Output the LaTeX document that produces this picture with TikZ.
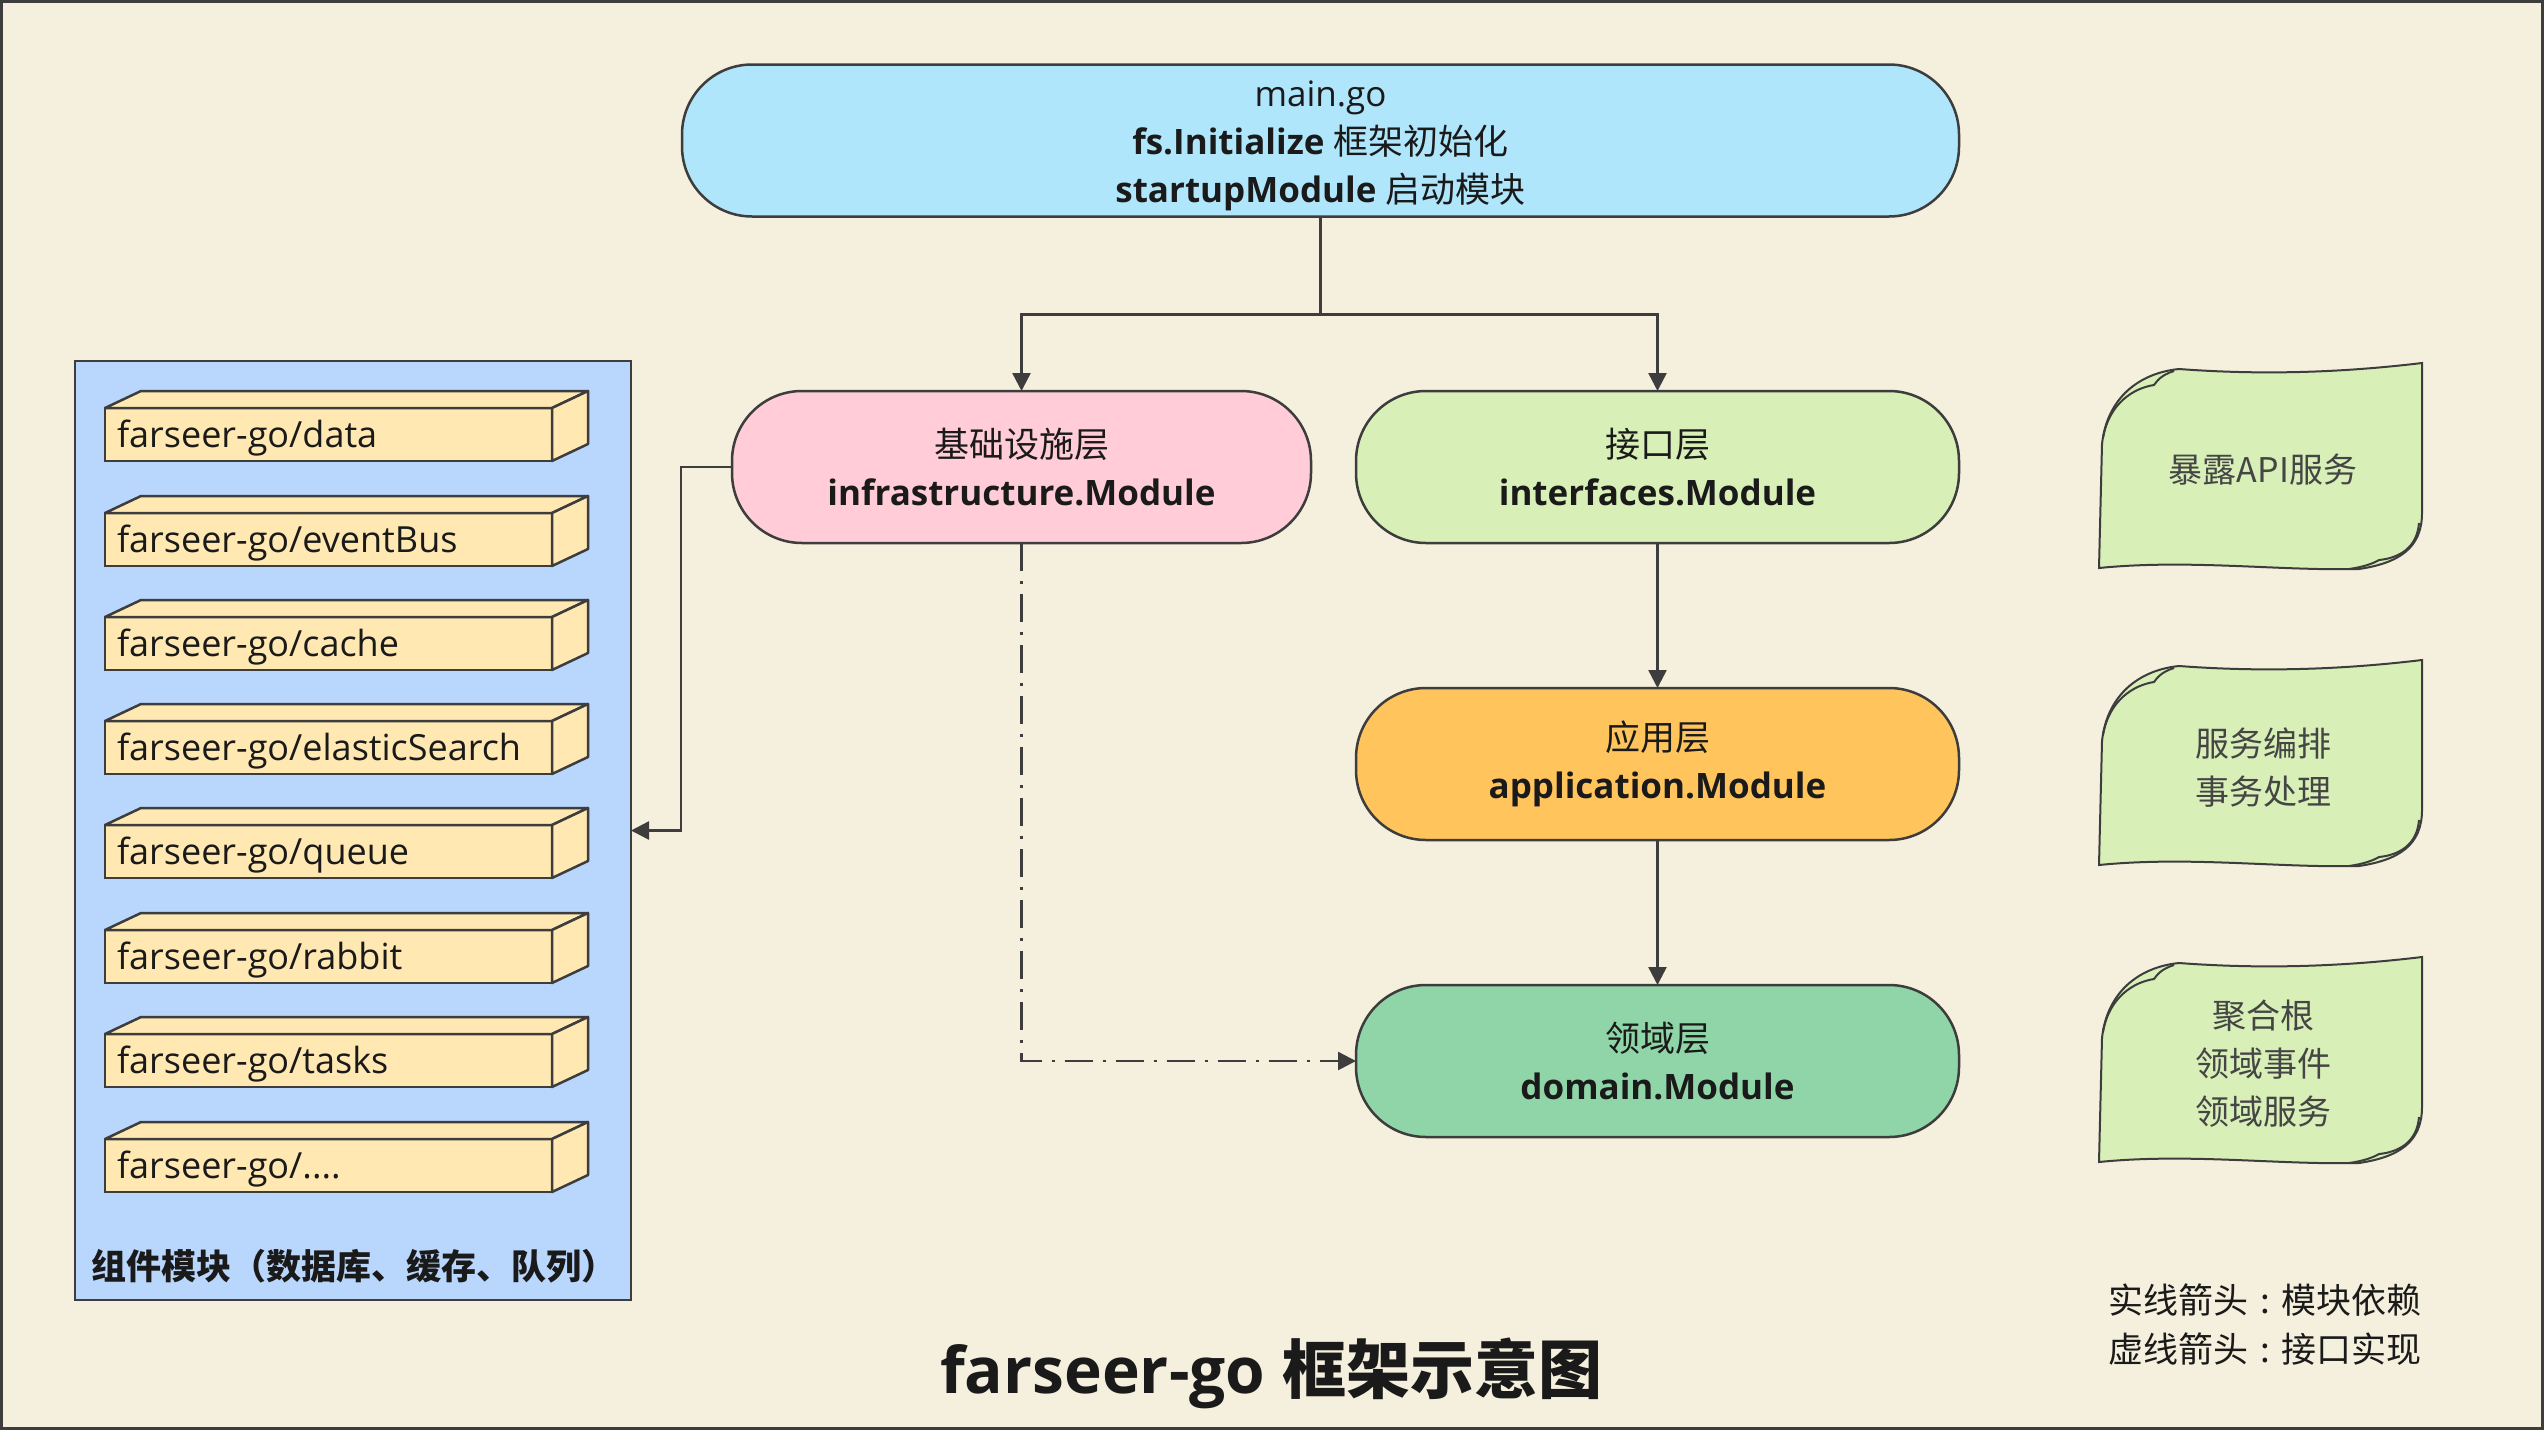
\documentclass[tikz,border=0pt]{standalone}
\usepackage{fontspec}
\setmainfont{Open Sans}
\newfontfamily\cjk{Noto Sans CJK SC}
\usetikzlibrary{arrows.meta}
\definecolor{bgc}{HTML}{F5F0DD}
\definecolor{linec}{HTML}{3D3D3D}
\definecolor{mainc}{HTML}{B0E6FB}
\definecolor{infrac}{HTML}{FFCCD8}
\definecolor{intfc}{HTML}{D8F0B8}
\definecolor{appc}{HTML}{FFC45C}
\definecolor{domc}{HTML}{90D5A8}
\definecolor{compc}{HTML}{B9D6FC}
\definecolor{itemc}{HTML}{FFE8B2}
\definecolor{txtc}{HTML}{1A1A1A}
\definecolor{padtxt}{HTML}{454545}
\newcommand\modbox[3]{%
  \node[itembox, anchor=north west] (#1) at (105,#2) {farseer-go/#3};
  \filldraw[itemedge] (#1.north west) -- ++(36,-17) -- ++(447,0) -- (#1.north east) -- cycle;
  \filldraw[itemedge] (#1.north east) -- ++(36,-17) -- ++(0,53) -- (#1.south east) -- cycle;
}
\newcommand\midcolon{\kern12pt:\kern12pt}
\tikzset{
  notepad/.pic={
    \filldraw[fill=intfc, draw=linec, line width=2pt]
      (0,205) -- (3,81) .. controls (8,35) and (40,10) .. (80,6)
      .. controls (160,12) and (240,10) .. (323,0) -- (323,150)
      .. controls (323,185) and (300,200) .. (260,206)
      .. controls (180,208) and (90,196) .. (0,205) -- cycle;
    \draw[linec, line width=2pt] (4,75) .. controls (10,40) and (35,25) .. (55,22)
      .. controls (58,18) and (62,12) .. (75,8);
    \draw[linec, line width=2pt] (320,160) .. controls (318,185) and (300,195) .. (280,197)
      .. controls (275,200) and (265,204) .. (250,206);
  }
}
\begin{document}
\begin{tikzpicture}[x=1pt,y=-1pt,
  every node/.style={inner sep=0pt, outer sep=0pt},
  layer/.style={draw=linec, line width=2.5pt, rounded corners=70pt,
    minimum height=152pt, align=center, text=txtc,
    font=\fontsize{35pt}{48pt}\selectfont},
  conn/.style={draw=linec, line width=2.5pt, -{Triangle[length=18pt,width=18pt]}},
  plain/.style={draw=linec, line width=2.5pt},
  itembox/.style={draw=linec, line width=2.5pt, fill=itemc, minimum height=53pt,
    text width=423pt, inner xsep=12pt, align=left, text=txtc,
    text height=28pt, text depth=3pt,
    font=\fontsize{36pt}{40pt}\selectfont},
  itemedge/.style={draw=linec, line width=2.5pt, fill=itemc, line join=round},
  padtext/.style={align=center, text=padtxt, font=\cjk\fontsize{34pt}{48pt}\selectfont}
]
\useasboundingbox (0,0) rectangle (2544,1430);
\fill[bgc] (0,0) rectangle (2544,1430);
\draw[linec, line width=3pt] (1.5,1.5) rectangle (2542.5,1428.5);

% main layers
\node[layer, fill=mainc, minimum width=1277pt] (main) at (1320.5,140.5)
  {\rule{0pt}{36pt}main.go\\\textbf{fs.Initialize} {\cjk 框架初始化}\\\textbf{startupModule} {\cjk 启动模块}};
\node[layer, fill=infrac, minimum width=579pt] (infra) at (1021.5,467)
  {{\cjk 基础设施层}\\\textbf{infrastructure.Module}};
\node[layer, fill=intfc, minimum width=603pt] (intf) at (1657.5,467)
  {{\cjk 接口层}\\\textbf{interfaces.Module}};
\node[layer, fill=appc, minimum width=603pt] (app) at (1657.5,764)
  {{\cjk 应用层}\\\textbf{application.Module}};
\node[layer, fill=domc, minimum width=603pt] (dom) at (1657.5,1061)
  {{\cjk 领域层}\\\textbf{domain.Module}};

% components container
\node[draw=linec, line width=2.5pt, fill=compc, minimum width=556pt, minimum height=939pt,
  anchor=north west] (comp) at (75,361) {};
\modbox{m1}{408}{data}
\modbox{m2}{513}{eventBus}
\modbox{m3}{617}{cache}
\modbox{m4}{721}{elasticSearch}
\modbox{m5}{825}{queue}
\modbox{m6}{930}{rabbit}
\modbox{m7}{1034}{tasks}
\modbox{m8}{1139}{....}
\node[text=txtc, font=\cjk\bfseries\fontsize{35pt}{40pt}\selectfont] (complabel) at (354,1266)
  {组件模块（数据库、缓存、队列）};

% connectors
\draw[plain] (main.south) -- ++(0,98) coordinate (br);
\draw[conn] (br) -| (infra.north);
\draw[conn] (br) -| (intf.north);
\draw[conn] (intf.south) -- (app.north);
\draw[conn] (app.south) -- (dom.north);
\draw[conn] (infra.west) -- ++(-51,0) |- (comp.east);
\draw[conn, dash pattern=on 28pt off 10pt on 3pt off 10pt] (infra.south) |- (dom.west);

% notes
\pic at (2099,363) {notepad};
\pic at (2099,660) {notepad};
\pic at (2099,957) {notepad};
\node[padtext] (p1) at (2263,470) {暴露API服务};
\node[padtext] (p2) at (2263,768) {服务编排\\事务处理};
\node[padtext] (p3) at (2263,1064) {聚合根\\领域事件\\领域服务};

% legend and title
\node[anchor=east, align=right, text=txtc, font=\cjk\fontsize{35pt}{49pt}\selectfont] (legend)
  at (2422,1325) {实线箭头\midcolon 模块依赖\\虚线箭头\midcolon 接口实现};
\node[text=txtc, font=\bfseries\fontsize{64pt}{70pt}\selectfont] (title) at (1271,1373)
  {farseer-go {\cjk 框架示意图}};
\end{tikzpicture}
\end{document}
